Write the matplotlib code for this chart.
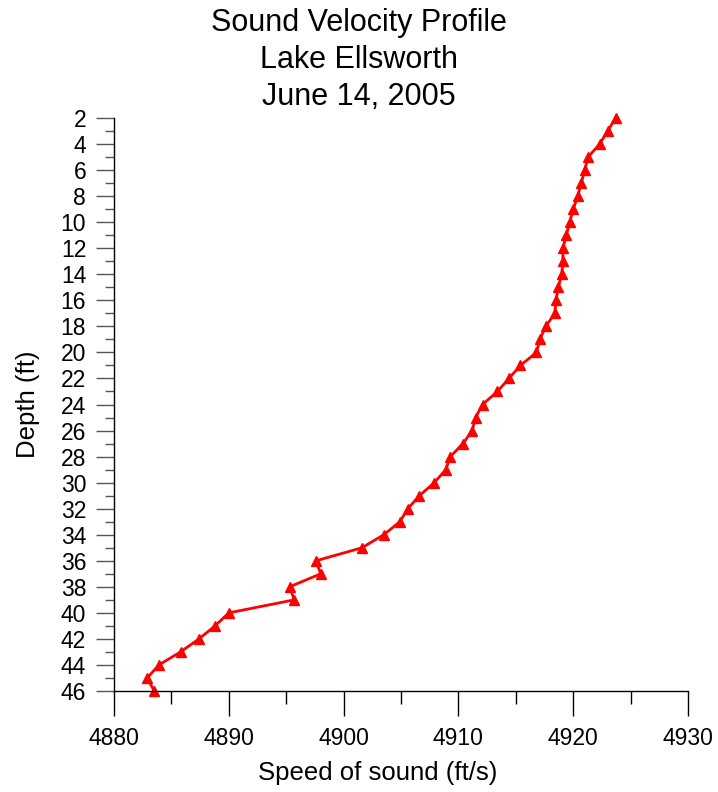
import matplotlib
matplotlib.use('Agg')
import matplotlib.pyplot as plt
from matplotlib.ticker import MultipleLocator

# Inputs
# ------------------------------------------------------------------------------------------
depth_ft = [2, 3, 4, 5, 6, 7, 8, 9, 10, 11, 12, 13, 14, 15, 16, 17, 18, 19, 20, 21, 22, 23,
            24, 25, 26, 27, 28, 29, 30, 31, 32, 33, 34, 35, 36, 37, 38, 39, 40, 41, 42, 43,
            44, 45, 46]
speed_fts = [4923.7, 4923.0, 4922.3, 4921.3, 4921.0, 4920.7, 4920.4, 4920.0, 4919.7, 4919.4,
             4919.1, 4919.1, 4919.0, 4918.7, 4918.5, 4918.4, 4917.6, 4917.1, 4916.8, 4915.4,
             4914.4, 4913.4, 4912.1, 4911.5, 4911.2, 4910.4, 4909.3, 4908.9, 4907.9, 4906.6,
             4905.6, 4904.9, 4903.5, 4901.6, 4897.6, 4898.0, 4895.3, 4895.7, 4890.0, 4888.8,
             4887.4, 4885.8, 4883.9, 4882.9, 4883.5]

title_lines = ['Sound Velocity Profile', 'Lake Ellsworth', 'June 14, 2005']

# Plot
# ------------------------------------------------------------------------------------------
plt.rcParams['font.family'] = ['Liberation Sans', 'DejaVu Sans']

fig = plt.figure(figsize=(7.18, 7.92), dpi=100)
ax = fig.add_axes([114/718, 101/792, 574/718, 573/792])

ax.plot(speed_fts, depth_ft, color='red', lw=2.0, marker='^', ms=7,
        markerfacecolor='red', markeredgecolor='red', clip_on=False)

ax.set_xlim(4880, 4930)
ax.set_ylim(46, 2)
ax.xaxis.set_major_locator(MultipleLocator(10))
ax.xaxis.set_minor_locator(MultipleLocator(5))
ax.yaxis.set_major_locator(MultipleLocator(2))
ax.yaxis.set_minor_locator(MultipleLocator(1))

ax.spines['top'].set_visible(False)
ax.spines['right'].set_visible(False)
for s in ('left', 'bottom'):
    ax.spines[s].set_linewidth(1.0)

ax.tick_params(axis='x', which='major', length=18, width=1, labelsize=16.5, pad=8)
ax.tick_params(axis='x', which='minor', length=9, width=1)
ax.tick_params(axis='y', which='major', length=13, width=1, labelsize=16.5, pad=7, color='#555555')
ax.tick_params(axis='y', which='minor', length=6.5, width=1, color='#555555')

ax.set_xlabel('Speed of sound (ft/s)', fontsize=18.5)
ax.xaxis.set_label_coords((378 - 114) / 574, (691 - 773) / 573)
ax.xaxis.label.set_verticalalignment('center')
ax.set_ylabel('Depth (ft)', fontsize=18.5)
ax.yaxis.set_label_coords((28 - 114) / 574, 0.5)
ax.yaxis.label.set_verticalalignment('center')

fig.text(0.5, 1 - 60/792, '\n'.join(title_lines), fontsize=22, ha='center', va='center',
         linespacing=1.32)

fig.savefig('out.png', dpi=100)
plt.close(fig)
